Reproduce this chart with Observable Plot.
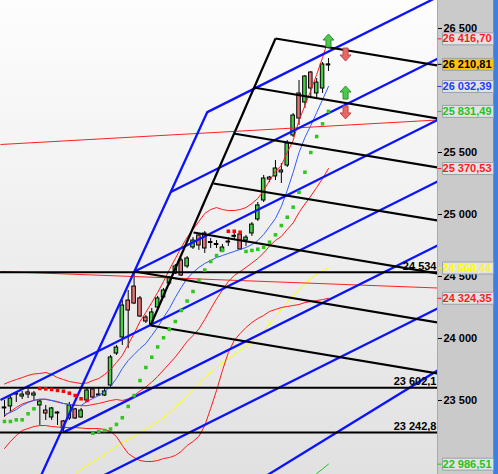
<!DOCTYPE html>
<html><head><meta charset="utf-8">
<script src="https://cdn.jsdelivr.net/npm/d3@7"></script>
<script src="https://cdn.jsdelivr.net/npm/@observablehq/plot@0.6"></script>
<style>
html,body{margin:0;padding:0;background:#fff;}
#chart{width:498px;height:474px;position:relative;overflow:hidden;
 background:
  linear-gradient(to right, transparent 0, transparent 437px, #a7abb0 437px, #a7abb0 438px, #cacaca 438px, #cacaca 493px, #6d9ff0 493px, #3f7fe0 494px),
  linear-gradient(to bottom, #fdfdfd 0%, #e1e1e1 100%);}
#chart svg{display:block;}
</style></head><body><div id="chart"></div>
<script>
// ---- data ----
const yTicks = [23500, 24000, 24500, 25000, 25500, 26500];

const openP  = [23436,23452,23548,23532,23565,23540,23460,23419,23363,23403,23331,23355,23428,23363,23500,23589,23548,23540,23621,23879,24008,24306,24419,24323,24169,24113,24250,24331,24444,24524,24629,24581,24734,24831,24847,24778,24762,24702,24774,24820,24839,24790,24847,24960,25113,25298,25307,25355,25395,25637,25976,25903,26145,25976,26016,26202];
const highP  = [23500,23540,23565,23573,23589,23573,23500,23460,23444,23410,23339,23484,23436,23436,23597,23597,23597,23597,23863,23944,24306,24387,24532,24339,24185,24242,24339,24403,24500,24597,24645,24661,24814,24847,24863,24806,24790,24758,24814,24855,24863,24831,24935,25097,25315,25307,25435,25411,25597,25814,26081,26121,26153,26097,26226,26258];
const lowP   = [23363,23403,23484,23508,23516,23500,23299,23339,23339,23299,23250,23339,23347,23355,23484,23516,23532,23532,23605,23863,23944,23919,24274,24169,24121,24105,24234,24323,24428,24516,24500,24565,24718,24710,24686,24726,24726,24694,24742,24790,24710,24742,24823,24944,25097,25258,25274,25250,25379,25621,25718,25855,25935,25943,25976,26153];
const closeP = [23444,23516,23556,23548,23548,23556,23492,23395,23436,23395,23274,23460,23355,23419,23581,23524,23540,23573,23847,23927,24266,24226,24282,24177,24137,24210,24323,24387,24492,24581,24508,24645,24790,24750,24726,24770,24754,24734,24782,24828,24718,24814,24919,25073,25290,25282,25371,25339,25573,25798,25774,26113,26016,26064,26210,26210.81];

const bbUpper  = [23633,23653,23669,23685,23702,23714,23718,23726,23710,23685,23669,23653,23645,23637,23641,23661,23677,23710,23750,23806,23863,23952,24040,24137,24210,24290,24371,24460,24556,24645,24734,24815,24879,24944,25008,25040,25056,25040,25032,25032,25040,25056,25089,25129,25194,25274,25347,25395,25500,25597,25758,25879,26000,26129,26266,26416.70];
const bbMiddle = [23373,23411,23444,23472,23488,23502,23508,23512,23500,23486,23476,23468,23464,23458,23458,23468,23476,23488,23500,23508,23500,23513,23540,23577,23609,23649,23694,23746,23798,23851,23912,23976,24024,24077,24153,24238,24319,24391,24460,24508,24540,24573,24609,24645,24690,24746,24791,24823,24879,24932,25016,25085,25149,25218,25290,25370.53];
const bbLower  = [23113,23169,23218,23258,23274,23290,23298,23298,23290,23286,23282,23282,23282,23278,23274,23274,23274,23266,23250,23210,23137,23073,23040,23016,23008,23008,23016,23032,23040,23057,23089,23137,23169,23210,23298,23436,23581,23742,23887,23984,24040,24089,24129,24161,24186,24218,24234,24250,24258,24266,24274,24290,24298,24306,24314,24324.35];
const emaFast  = [23387,23403,23427,23460,23484,23500,23512,23508,23500,23492,23476,23468,23460,23460,23492,23516,23540,23573,23613,23677,23758,23823,23871,23919,23960,24024,24089,24169,24242,24331,24411,24484,24532,24573,24605,24629,24653,24669,24686,24702,24718,24734,24758,24790,24839,24903,24968,25065,25194,25339,25500,25621,25718,25823,25927,26032.39];
const maSlowStart = 11;
const maSlow   = [22871,22903,22944,22976,23008,23032,23065,23097,23129,23161,23186,23210,23242,23266,23298,23331,23363,23403,23444,23492,23540,23589,23637,23685,23726,23766,23806,23839,23871,23903,23936,23976,24016,24065,24121,24177,24234,24290,24347,24395,24444,24484,24516,24548,24568.44];
const tailStart = 52;
const tailLine = [22871, 22911, 22948, 22986.51];

const sarLong  = [23331,23331,23344,23344,23393,23433,null,null,null,null,null,null,null,null,null,23236,23252,23258,23270,23307,23361,23452,23540,23661,23766,23849,23932,24006,24073,24137,24226,24302,24379,24472,24552,24621,24669,24710,null,null,null,24702,24710,24720,24736,24777,24836,24911,24978,25059,25180,25341,25500,25629,25731,25831.49];
const sarShort = [null,null,null,null,null,null,23597,23594,23589,23581,23575,23559,23540,23514,23500,null,null,null,null,null,null,null,null,null,null,null,null,null,null,null,null,null,null,null,null,null,null,null,24865,24865,24857,null,null,null,null,null,null,null,null,null,null,null,null,null,null,null];

// drawn tool lines: [index1, price1, index2, price2]
const blackSteep = [[24.79, 24104.8, 46.01, 26419.3]];
const blackRays = [
  [46.01, 26419.3, 73.51, 26201.6],
  [42.28, 26024.2, 73.51, 25774.2],
  [38.88, 25653.2, 73.51, 25379.0],
  [35.48, 25250.0, 73.51, 24951.6],
  [32.09, 24854.8, 73.51, 24524.2],
  [22.07, 24540.3, 73.51, 24129.0],
  [24.79, 24104.8, 73.51, 23717.7]
];
const blueSteep = [[6.28, 22903.2, 34.47, 25830.6]];
const blueRays = [
  [34.43, 25825.8, 73.51, 26754.0],
  [28.23, 25181.4, 73.51, 26256.4],
  [22.07, 24540.3, 73.51, 25762.1],
  [-0.68, 23504.0, 73.51, 25266.1],
  [10.00, 23242.8, 73.51, 24750.0],
  [-0.68, 22479.8, 73.51, 24242.0],
  [30.00, 22471.0, 73.51, 23742.0]
];
const redRays = [
  [-0.68, 25564.5, 73.51, 25762.1],
  [-0.68, 24540.3, 73.51, 24407.3]
];
const hLevels = [24534, 23602.1, 23242.8];

const arrowIdx   = [55, 57.9, 57.9, 57.9];
const arrowPrice = [26403, 26290, 25984, 25823];
const arrowDir   = ["up", "down", "up", "down"];

const valueLabels = [26416.70, 26210.81, 26032.39, 25831.49, 25370.53, 24568.44, 24324.35, 22986.51];
const labelKinds  = ["bb", "last", "ema", "sar", "bb", "slow", "bb", "tail"];

// ---- styles ----
const kindColors = {bb: "#ff1a1a", last: "#000000", ema: "#1f3cff", sar: "#22c322", slow: "#ffff00", tail: "#22c322"};
const GREEN = "#48cc48", RED = "#e27575";

// ---- build ----
const loc = d3.formatLocale({decimal: ",", thousands: " ", grouping: [3], currency: ["", ""]});
const fInt = loc.format(",.0f"), f1 = loc.format(",.1f"), f2 = loc.format(",.2f");
const fmtLevel = v => Number.isInteger(v) ? fInt(v) : f1(v);

const candles = openP.map((o, i) => ({i, o, h: highP[i], l: lowP[i], c: closeP[i]}));
const series = (arr, start = 0) => arr.map((v, k) => ({i: k + start, v})).filter(d => d.v != null);
const labelData = valueLabels.map((v, k) => ({v, kind: labelKinds[k]}));
const arrows = arrowIdx.map((x, k) => ({x, y: arrowPrice[k], dir: arrowDir[k]}));

const boxSymbol = {draw(ctx) { ctx.rect(-25.5, -6, 51, 12); }};
const tickSymbol = {draw(ctx) { ctx.moveTo(0, 0); ctx.lineTo(4, 0); }};
const upArrow = {draw(ctx) { ctx.moveTo(0,-6.5); ctx.lineTo(5.5,-0.5); ctx.lineTo(2.5,-0.5); ctx.lineTo(2.5,6.5); ctx.lineTo(-2.5,6.5); ctx.lineTo(-2.5,-0.5); ctx.lineTo(-5.5,-0.5); ctx.closePath(); }};
const downArrow = {draw(ctx) { ctx.moveTo(0,6.5); ctx.lineTo(5.5,0.5); ctx.lineTo(2.5,0.5); ctx.lineTo(2.5,-6.5); ctx.lineTo(-2.5,-6.5); ctx.lineTo(-2.5,0.5); ctx.lineTo(-5.5,0.5); ctx.closePath(); }};

const seg = {x1: d => d[0], y1: d => d[1], x2: d => d[2], y2: d => d[3], clip: true};
const lineOpt = (stroke, w = 1) => ({x: "i", y: "v", stroke, strokeWidth: w, clip: true});

const chart = Plot.plot({
  width: 498, height: 474,
  marginLeft: 0, marginRight: 61, marginTop: 0, marginBottom: 0,
  style: {background: "transparent", fontFamily: "'Liberation Sans', Arial, sans-serif", fontSize: "11px", fontWeight: "bold", color: "#000", overflow: "visible"},
  x: {domain: [-0.68, 73.51], axis: null},
  y: {domain: [22903.2, 26725.8], axis: "right", ticks: yTicks, tickFormat: fInt, tickSize: 4, tickPadding: 2, label: null},
  color: {type: "ordinal", domain: Object.keys(kindColors), range: Object.values(kindColors)},
  marks: [
    // candles
    Plot.ruleX(candles, {x: "i", y1: "l", y2: "h", stroke: "#000", strokeWidth: 1, clip: true}),
    Plot.rect(candles.filter(d => d.c >= d.o), {x1: d => d.i - 0.3, x2: d => d.i + 0.3, y1: "o", y2: "c", fill: GREEN, stroke: "#000", strokeWidth: 1, clip: true}),
    Plot.rect(candles.filter(d => d.c < d.o), {x1: d => d.i - 0.3, x2: d => d.i + 0.3, y1: "o", y2: "c", fill: RED, stroke: "#000", strokeWidth: 1, clip: true}),
    // indicators
    Plot.line(series(maSlow, maSlowStart), lineOpt("#ffff00")),
    Plot.line(series(bbUpper), lineOpt("#ff1a1a")),
    Plot.line(series(bbMiddle), lineOpt("#ff1a1a")),
    Plot.line(series(bbLower), lineOpt("#ff1a1a")),
    Plot.line(series(emaFast), lineOpt("#2f5bff")),
    Plot.line(series(tailLine, tailStart), lineOpt("#22c322")),
    // drawn tools
    Plot.link(redRays, {...seg, stroke: "#ff2020", strokeWidth: 1}),
    Plot.link(blueSteep.concat(blueRays), {...seg, stroke: "#0a12ff", strokeWidth: 2.3}),
    Plot.link(blackSteep.concat(blackRays), {...seg, stroke: "#000", strokeWidth: 2.2}),
    Plot.ruleY(hLevels, {stroke: "#000", strokeWidth: 2}),
    Plot.text(hLevels, {y: d => d, text: fmtLevel, frameAnchor: "right", textAnchor: "end", dx: -1, dy: -6, fill: "#000", fontSize: 11, fontWeight: "bold"}),
    // parabolic SAR
    Plot.dot(series(sarLong), {x: "i", y: "v", symbol: "square", r: 2, fill: "#2fc71c", stroke: "none", clip: true}),
    Plot.dot(series(sarShort), {x: "i", y: "v", symbol: "square", r: 2, fill: "#ff0000", stroke: "none", clip: true}),
    // signal arrows
    Plot.dot(arrows.filter(d => d.dir === "up"), {x: "x", y: "y", symbol: upArrow, r: 5, fill: "#4cc84c", stroke: "#2e8f2e", strokeWidth: 1}),
    Plot.dot(arrows.filter(d => d.dir === "down"), {x: "x", y: "y", symbol: downArrow, r: 5, fill: "#e86868", stroke: "#b84848", strokeWidth: 1}),
    // right value labels
    Plot.dot(labelData, {y: "v", frameAnchor: "right", symbol: tickSymbol, r: 4, fill: "none", stroke: "kind", strokeWidth: 1}),
    Plot.dot(labelData.filter(d => d.kind !== "last"), {y: "v", frameAnchor: "right", dx: 30.5, symbol: boxSymbol, r: 5, fill: "#e3e3e3", stroke: "#9aa2aa", strokeWidth: 1}),
    Plot.dot(labelData.filter(d => d.kind === "last"), {y: "v", frameAnchor: "right", dx: 30.5, symbol: boxSymbol, r: 5, fill: "#ffc20e", stroke: "#9aa2aa", strokeWidth: 1}),
    Plot.text(labelData, {y: "v", text: d => f2(d.v), frameAnchor: "right", dx: 54, textAnchor: "end", fill: "kind", fontSize: 11, fontWeight: "bold"})
  ]
});
document.getElementById("chart").appendChild(chart);
</script></body></html>
